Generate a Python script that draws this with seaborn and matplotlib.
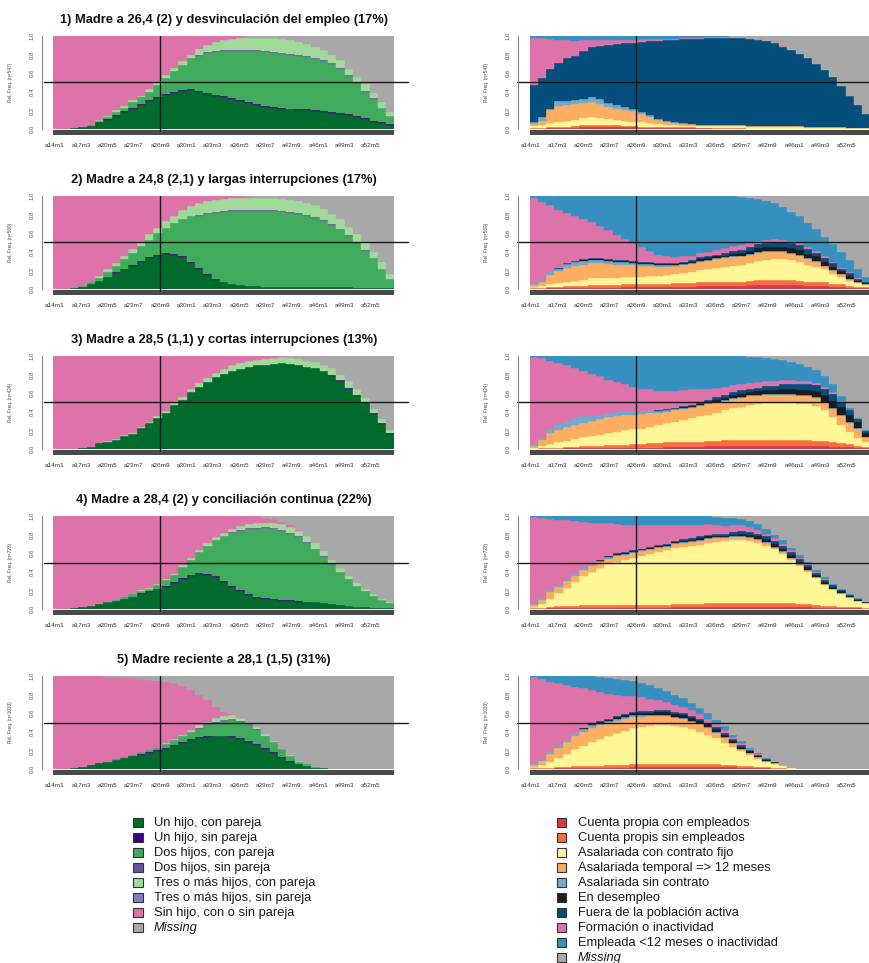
import numpy as np
import matplotlib
matplotlib.use("Agg")
import matplotlib.pyplot as plt
from matplotlib.patches import Rectangle
import seaborn as sns

# ---------------------------------------------------------------
# Time axis: 41 yearly steps (ages 14..54), 12 monthly columns each
# ---------------------------------------------------------------
tick_labels = ["a14m1", "a17m3", "a20m5", "a23m7", "a26m9", "a30m1", "a33m3",
               "a36m5", "a39m7", "a42m9", "a46m1", "a49m3", "a52m5"]
mother_mark = "a26m9"

titles = ["1) Madre a 26,4 (2) y desvinculación del empleo (17%)",
          "2) Madre a 24,8 (2,1) y largas interrupciones (17%)",
          "3) Madre a 28,5 (1,1) y cortas interrupciones (13%)",
          "4) Madre a 28,4 (2) y conciliación continua (22%)",
          "5) Madre reciente a 28,1 (1,5) (31%)"]
group_n = [547, 569, 424, 723, 1033]

fam_states = ["Un hijo, con pareja", "Un hijo, sin pareja", "Dos hijos, con pareja",
              "Dos hijos, sin pareja", "Tres o más hijos, con pareja",
              "Tres o más hijos, sin pareja", "Sin hijo, con o sin pareja", "Missing"]
lab_states = ["Cuenta propia con empleados", "Cuenta propis sin empleados",
              "Asalariada con contrato fijo", "Asalariada temporal => 12 meses",
              "Asalariada sin contrato", "En desempleo", "Fuera de la población activa",
              "Formación o inactividad", "Empleada <12 meses o inactividad", "Missing"]

# ---------------- family trajectories (percent per step) ----------------
fam1_un_con = [0,0,1,2,3,7,10,14,18,22, 26,30,33,37,39,41,42,40,38,36, 34,32,30,28,26,24,23,22,21,20, 20,19,18,17,16,15,13,11,8,6, 4]
fam1_un_sin = [0,0,0,0,0,0,1,1,1,1, 1,1,1,1,1,1,1,1,1,1, 1,1,1,1,1,1,1,1,1,1, 1,1,1,1,1,1,1,1,1,1, 1]
fam1_dos_con = [0,0,0,0,1,2,2,3,4,6, 7,9,13,17,22,27,33,38,43,46, 49,51,53,55,57,58,58,58,58,58, 56,55,54,52,48,41,35,28,23,16, 9]
fam1_dos_sin = [0,0,0,0,0,0,0,0,0,0, 0,0,0,0,0,0,0,1,1,1, 1,1,1,1,1,1,1,1,1,1, 1,1,1,1,1,1,1,1,1,0, 0]
fam1_tres_con = [0,0,0,0,0,1,1,2,2,2, 2,3,2,3,4,4,4,6,7,10, 11,12,13,13,13,14,15,15,15,14, 13,12,11,9,8,7,6,7,6,6, 4]
fam1_tres_sin = [0,0,0,0,0,0,0,0,0,0, 0,0,0,0,0,0,0,0,0,0, 0,0,0,0,0,0,0,0,0,0, 0,0,0,0,0,0,0,0,0,0, 0]
fam1_sin_hijo = [100,100,99,98,96,90,86,80,75,69, 64,57,51,42,34,27,20,14,10,6, 4,3,2,0,0,0,0,0,0,0, 0,0,0,0,0,0,0,0,0,0, 0]
fam1_missing = [0,0,0,0,0,0,0,0,0,0, 0,0,0,0,0,0,0,0,0,0, 0,0,0,2,2,2,2,3,4,6, 9,12,15,20,26,35,44,52,61,71, 82]

fam2_un_con = [0,0,1,2,5,9,13,17,21,25, 29,33,36,38,37,34,28,22,15,10, 7,5,4,3,3,2,2,2,2,2, 2,2,2,2,2,2,1,1,1,1, 1]
fam2_un_sin = [0,0,0,0,0,0,0,1,1,1, 1,1,1,1,1,1,1,1,1,1, 1,0,0,0,0,0,0,0,0,0, 0,0,0,0,0,0,0,0,0,0, 0]
fam2_dos_con = [0,0,0,1,2,3,5,7,10,13, 16,19,23,27,33,40,49,56,65,71, 75,79,80,81,81,82,82,81,80,79, 77,74,71,67,62,55,48,40,32,21, 10]
fam2_dos_sin = [0,0,0,0,0,0,0,0,0,0, 0,0,0,0,0,0,0,1,1,1, 1,1,1,1,1,1,1,1,1,1, 1,1,1,1,1,1,1,1,0,0, 0]
fam2_tres_con = [0,0,0,0,1,2,3,3,4,4, 5,6,6,7,8,10,11,12,13,13, 13,13,13,13,13,13,13,13,13,13, 13,13,12,11,10,9,9,8,7,7, 5]
fam2_tres_sin = [0,0,0,0,0,0,0,0,0,0, 0,0,0,0,0,0,0,0,0,0, 0,0,0,0,0,0,0,0,0,0, 0,0,0,0,0,0,0,0,0,0, 0]
fam2_sin_hijo = [100,100,99,97,92,86,79,72,64,57, 49,41,34,27,21,15,11,8,5,4, 3,2,2,1,0,0,0,0,0,0, 0,0,0,0,0,0,0,0,0,0, 0]
fam2_missing = [0,0,0,0,0,0,0,0,0,0, 0,0,0,0,0,0,0,0,0,0, 0,0,0,1,2,2,2,3,4,5, 7,10,14,19,25,33,41,50,60,71, 84]

fam3_un_con = [0,0,0,1,2,6,8,10,14,16, 23,28,33,39,47,53,61,67,72,77, 81,84,86,88,90,90,91,92,91,90, 88,87,84,79,73,65,57,50,38,27, 16]
fam3_un_sin = [0,0,0,0,0,0,0,0,0,0, 0,0,0,0,0,0,0,0,0,0, 0,0,0,0,0,0,0,0,0,0, 0,0,0,1,1,1,1,1,1,1, 1]
fam3_dos_con = [0,0,0,0,0,0,0,0,0,0, 0,0,0,0,0,0,0,0,0,0, 0,0,0,0,0,0,0,0,0,0, 0,0,0,0,0,0,0,0,0,0, 0]
fam3_dos_sin = [0,0,0,0,0,0,0,0,0,0, 0,0,0,0,0,0,0,0,0,0, 0,0,0,0,0,0,0,0,0,0, 0,0,0,0,0,0,0,0,0,0, 0]
fam3_tres_con = [0,0,0,0,0,0,1,1,1,1, 1,1,2,2,2,3,3,4,4,5, 5,6,7,7,6,7,7,7,7,7, 7,7,6,7,6,7,6,4,4,4, 3]
fam3_tres_sin = [0,0,0,0,0,0,0,0,0,0, 0,0,0,0,0,0,0,0,0,0, 0,0,0,0,0,0,0,0,0,0, 0,0,0,0,0,0,0,0,0,0, 0]
fam3_sin_hijo = [100,100,100,99,98,94,91,89,85,83, 76,71,65,59,51,44,36,29,24,18, 14,10,7,5,4,3,2,1,0,0, 0,0,0,0,0,0,0,0,0,0, 0]
fam3_missing = [0,0,0,0,0,0,0,0,0,0, 0,0,0,0,0,0,0,0,0,0, 0,0,0,0,0,0,0,0,2,3, 5,6,10,13,20,27,36,45,57,68, 80]

fam4_un_con = [0,0,1,2,3,5,7,9,11,13, 16,18,21,24,28,32,36,38,37,34, 29,24,19,15,12,11,10,9,9,8, 7,7,6,5,4,3,2,2,1,1, 1]
fam4_un_sin = [0,0,0,0,0,0,0,0,0,0, 1,1,1,1,1,1,1,1,1,1, 1,1,1,1,1,1,1,1,1,1, 1,0,0,0,0,0,0,0,0,0, 0]
fam4_dos_con = [0,0,0,0,0,0,1,1,2,3, 2,3,4,6,8,12,16,22,30,39, 48,57,64,70,73,75,75,74,71,68, 63,57,50,42,36,29,23,17,13,9, 5]
fam4_dos_sin = [0,0,0,0,0,0,0,0,0,0, 0,0,0,0,0,0,0,0,0,0, 1,1,1,1,1,1,1,1,1,1, 1,1,1,1,0,0,0,0,0,0, 0]
fam4_tres_con = [0,0,0,0,0,0,0,0,0,0, 1,1,1,1,1,2,2,2,3,3, 3,3,4,4,5,5,6,6,6,6, 6,6,5,5,4,3,3,2,2,1, 1]
fam4_tres_sin = [0,0,0,0,0,0,0,0,0,0, 0,0,0,0,0,0,0,0,0,0, 0,0,0,0,0,0,0,0,0,0, 0,0,0,0,0,0,0,0,0,0, 0]
fam4_sin_hijo = [100,100,99,98,97,95,92,90,87,84, 80,77,73,68,62,53,45,37,29,23, 18,14,11,9,8,5,4,3,2,1, 0,0,0,0,0,0,0,0,0,0, 0]
fam4_missing = [0,0,0,0,0,0,0,0,0,0, 0,0,0,0,0,0,0,0,0,0, 0,0,0,0,0,2,3,6,10,15, 22,29,38,47,56,65,72,79,84,89, 93]

fam5_un_con = [0,0,1,2,4,6,8,10,12,14, 15,17,19,22,25,28,31,33,34,35, 35,34,32,29,26,22,17,12,8,5, 3,1,1,0,0,0,0,0,0,0, 0]
fam5_un_sin = [0,0,0,0,0,0,0,0,0,0, 1,1,1,1,1,1,1,1,1,1, 1,1,1,1,1,1,1,1,1,0, 0,0,0,0,0,0,0,0,0,0, 0]
fam5_dos_con = [0,0,0,0,0,0,0,1,1,1, 2,2,3,4,5,6,8,9,12,14, 16,18,18,17,15,12,11,8,5,3, 2,1,0,0,0,0,0,0,0,0, 0]
fam5_dos_sin = [0,0,0,0,0,0,0,0,0,0, 0,0,0,0,0,0,0,1,1,1, 1,1,1,1,1,1,0,0,0,0, 0,0,0,0,0,0,0,0,0,0, 0]
fam5_tres_con = [0,0,0,0,0,0,0,0,0,0, 0,0,0,1,1,2,2,3,3,4, 4,4,3,2,2,2,1,1,1,1, 0,0,0,0,0,0,0,0,0,0, 0]
fam5_tres_sin = [0,0,0,0,0,0,0,0,0,0, 0,0,0,0,0,0,0,0,0,0, 0,0,0,0,0,0,0,0,0,0, 0,0,0,0,0,0,0,0,0,0, 0]
fam5_sin_hijo = [100,100,99,98,96,94,91,88,85,83, 79,76,72,66,60,52,43,33,23,12, 4,1,1,0,0,0,0,0,0,0, 0,0,0,0,0,0,0,0,0,0, 0]
fam5_missing = [0,0,0,0,0,0,1,1,2,2, 3,4,5,6,8,11,15,20,26,33, 39,41,44,50,55,62,70,78,85,91, 95,98,99,100,100,100,100,100,100,100, 100]

# ---------------- labour trajectories (percent per step) ----------------
lab1_cp_con = [0,0,1,1,1,1,2,2,2,2, 2,2,2,1,1,1,1,1,1,1, 1,1,0,0,0,0,0,0,0,0, 0,0,0,0,0,0,0,0,0,0, 0]
lab1_cp_sin = [1,1,1,1,1,2,2,2,2,2, 2,1,1,1,1,1,1,1,1,1, 0,0,1,1,1,1,0,0,0,0, 0,0,0,0,0,0,0,0,0,0, 0]
lab1_fijo = [2,3,4,6,7,7,8,9,8,7, 6,6,5,5,4,3,2,2,1,1, 2,2,2,2,2,2,2,2,2,2, 2,2,2,1,1,1,1,1,1,1, 1]
lab1_temporal = [2,5,14,17,17,17,16,16,15,13, 12,11,11,9,7,5,4,2,2,2, 1,1,1,1,1,1,1,1,1,1, 1,1,1,1,1,1,1,1,0,0, 0]
lab1_sin_contrato = [2,4,2,5,4,4,4,5,5,4, 4,4,2,2,2,1,1,1,1,0, 0,0,0,0,0,0,0,0,0,0, 0,0,0,0,0,0,0,0,0,0, 0]
lab1_desempleo = [0,0,0,0,0,0,0,0,0,0, 0,0,0,0,0,0,0,0,0,0, 0,0,0,0,0,0,0,0,0,0, 0,0,0,0,0,0,0,0,0,0, 0]
lab1_fuera = [40,42,42,41,46,48,52,54,57,62, 65,68,72,76,80,84,87,89,91,92, 93,94,94,94,94,94,94,93,92,89, 85,82,78,74,68,61,54,44,35,25, 15]
lab1_formacion = [51,43,33,25,20,16,12,8,7,6, 5,4,3,3,2,2,1,1,1,1, 1,1,1,1,1,0,0,1,0,0, 1,0,0,0,0,0,0,0,0,0, 0]
lab1_empleada12 = [2,2,3,4,4,5,4,4,4,4, 4,4,4,3,3,3,3,3,2,2, 2,1,1,1,0,0,0,0,0,0, 0,0,0,0,0,0,0,0,0,0, 0]
lab1_missing = [0,0,0,0,0,0,0,0,0,0, 0,0,0,0,0,0,0,0,0,0, 0,0,0,0,1,2,3,3,5,8, 11,15,19,24,30,37,44,54,64,74, 84]

lab2_cp_con = [0,0,1,1,1,1,1,1,1,1, 1,2,2,2,2,2,2,2,2,2, 3,3,3,3,3,3,4,4,4,4, 4,4,4,3,3,3,2,2,1,1, 1]
lab2_cp_sin = [1,1,1,1,2,2,2,3,3,3, 3,3,3,3,3,3,3,4,4,4, 4,4,5,5,5,5,5,6,6,6, 6,6,5,5,5,4,3,3,2,1, 1]
lab2_fijo = [1,2,3,4,5,6,7,8,8,8, 8,8,8,8,9,9,10,10,11,12, 13,14,15,16,17,18,19,20,21,22, 22,21,20,18,16,14,11,8,6,4, 2]
lab2_temporal = [2,5,10,13,15,16,16,16,16,15, 14,13,13,12,11,10,9,9,9,9, 9,9,9,9,9,9,9,9,9,8, 8,7,7,6,5,4,4,3,2,1, 1]
lab2_sin_contrato = [1,2,3,3,4,4,4,3,3,3, 3,3,2,2,2,2,2,1,1,1, 1,1,1,1,1,1,1,1,1,1, 1,1,1,1,1,0,0,0,0,0, 0]
lab2_desempleo = [0,0,0,0,0,0,1,1,1,1, 1,1,1,1,1,1,1,1,1,1, 2,2,2,2,3,3,3,4,4,4, 4,5,5,5,5,4,4,3,3,2, 1]
lab2_fuera = [0,0,0,1,1,1,1,1,1,1, 1,1,1,1,1,1,1,1,1,2, 2,2,2,3,3,3,4,4,4,5, 5,5,5,5,4,4,4,3,3,2, 1]
lab2_formacion = [93,84,72,62,54,48,43,39,35,31, 27,23,19,16,12,9,7,6,6,5, 5,5,5,5,5,5,4,4,4,4, 3,3,2,2,2,2,1,1,1,1, 0]
lab2_empleada12 = [2,6,10,15,18,22,25,28,32,37, 42,46,51,55,59,63,65,66,65,64, 61,60,58,56,54,52,49,45,42,38, 35,31,29,26,23,21,19,17,13,10, 6]
lab2_missing = [0,0,0,0,0,0,0,0,0,0, 0,0,0,0,0,0,0,0,0,0, 0,0,0,0,0,1,2,3,5,8, 12,17,22,29,36,44,52,60,69,78, 87]

lab3_cp_con = [0,0,0,0,1,1,1,1,1,1, 1,1,1,1,1,1,2,2,2,2, 2,3,3,3,3,3,3,3,3,3, 3,3,3,3,3,3,2,2,2,1, 1]
lab3_cp_sin = [0,1,1,1,1,1,2,2,2,3, 3,3,4,4,5,5,5,5,6,6, 6,6,6,7,7,7,7,7,7,7, 7,7,7,7,6,6,5,4,3,2, 1]
lab3_fijo = [1,2,4,6,7,9,10,11,12,13, 14,16,16,17,18,20,21,22,23,25, 27,28,30,32,34,35,37,38,39,39, 39,39,38,38,37,33,27,20,13,9, 5]
lab3_temporal = [2,7,12,13,15,15,15,16,17,17, 17,17,16,16,15,13,12,13,12,11, 11,11,11,10,10,10,10,9,9,9, 9,9,9,9,9,8,9,10,10,10, 6]
lab3_sin_contrato = [2,2,5,7,6,7,7,6,5,5, 5,4,4,3,2,2,2,1,1,1, 1,1,1,1,1,1,1,1,1,1, 1,1,1,1,1,1,1,1,1,1, 0]
lab3_desempleo = [0,0,0,0,0,0,0,0,0,0, 0,0,0,0,0,0,0,0,1,1, 1,2,2,2,3,3,3,4,4,4, 5,5,5,5,6,7,8,8,8,6, 4]
lab3_fuera = [0,0,0,0,0,0,0,0,0,0, 0,0,0,0,0,1,1,1,1,1, 2,2,3,3,3,4,4,4,5,5, 6,6,7,7,7,7,7,6,5,3, 2]
lab3_formacion = [94,86,73,66,60,54,49,45,41,35, 32,29,26,24,23,20,19,18,17,17, 14,12,10,9,8,7,6,6,5,5, 4,4,3,3,2,2,2,1,0,0, 0]
lab3_empleada12 = [1,2,5,7,10,13,16,19,22,26, 28,30,33,35,36,38,38,38,37,36, 36,35,34,33,31,30,28,27,25,24, 22,20,18,15,14,12,9,5,2,1, 1]
lab3_missing = [0,0,0,0,0,0,0,0,0,0, 0,0,0,0,0,0,0,0,0,0, 0,0,0,0,0,0,1,1,2,3, 4,6,9,12,15,21,30,43,56,67, 80]

lab4_cp_con = [0,0,1,1,1,1,1,1,1,1, 1,1,1,1,1,1,1,2,2,2, 2,2,2,2,2,2,2,2,2,2, 2,2,2,2,1,1,1,1,1,1, 0]
lab4_cp_sin = [1,1,1,2,2,2,3,3,3,3, 3,3,3,3,3,3,3,3,3,3, 3,4,4,4,4,4,4,4,4,4, 4,4,3,3,3,2,2,1,1,1, 1]
lab4_fijo = [1,4,9,14,20,26,31,36,40,44, 47,49,51,53,55,57,59,61,62,63, 64,65,66,67,68,68,67,65,62,58, 53,47,41,35,29,23,18,14,10,7, 5]
lab4_temporal = [2,5,7,7,7,7,7,6,6,6, 6,5,5,5,5,5,4,4,4,4, 4,4,4,3,3,3,3,3,3,2, 2,2,2,2,1,1,1,1,1,0, 0]
lab4_sin_contrato = [1,2,2,2,2,2,2,2,2,2, 1,1,1,1,1,1,1,1,1,1, 1,1,1,1,1,1,1,1,1,1, 1,0,0,0,0,0,0,0,0,0, 0]
lab4_desempleo = [0,0,0,0,0,0,0,0,1,1, 1,1,1,1,1,1,1,1,1,1, 2,2,2,2,2,3,3,3,3,3, 3,3,3,3,3,2,2,2,1,1, 1]
lab4_fuera = [0,0,0,0,0,0,0,0,0,0, 1,1,1,1,1,1,1,1,2,2, 2,2,2,2,3,3,3,3,3,3, 3,3,3,2,2,2,2,1,1,1, 1]
lab4_formacion = [94,86,77,70,64,57,50,45,40,35, 31,29,27,25,23,21,20,17,15,14, 12,11,9,8,7,6,5,4,3,3, 2,2,1,1,1,1,0,0,0,0, 0]
lab4_empleada12 = [1,2,3,4,4,5,6,7,7,8, 9,10,10,10,10,10,10,10,10,10, 10,9,9,9,8,7,7,6,5,4, 4,3,3,2,2,2,1,1,1,1, 0]
lab4_missing = [0,0,0,0,0,0,0,0,0,0, 0,0,0,0,0,0,0,0,0,0, 0,0,1,2,2,3,5,9,14,20, 26,34,42,50,58,66,73,79,84,88, 92]

lab5_cp_con = [0,0,0,1,1,1,1,1,1,1, 1,1,2,2,2,2,2,2,2,2, 2,2,2,2,2,1,1,1,1,0, 0,0,0,0,0,0,0,0,0,0, 0]
lab5_cp_sin = [1,1,1,1,1,2,2,2,2,3, 3,3,3,3,3,3,3,3,3,3, 3,3,3,2,2,2,2,1,1,1, 1,0,0,0,0,0,0,0,0,0, 0]
lab5_fijo = [1,3,6,10,14,18,22,26,29,32, 35,37,39,40,41,42,42,41,40,38, 35,32,28,24,20,16,12,9,6,4, 2,1,0,0,0,0,0,0,0,0, 0]
lab5_temporal = [2,5,9,11,13,14,15,15,15,14, 13,13,12,11,11,10,10,9,9,8, 8,7,6,5,4,3,2,2,1,1, 1,0,0,0,0,0,0,0,0,0, 0]
lab5_sin_contrato = [1,2,3,3,3,3,3,3,3,2, 2,2,2,2,1,1,1,1,1,1, 1,1,1,1,0,0,0,0,0,0, 0,0,0,0,0,0,0,0,0,0, 0]
lab5_desempleo = [0,0,0,0,0,0,1,1,1,1, 2,2,2,2,2,3,3,3,3,3, 3,3,3,3,2,2,2,1,1,1, 0,0,0,0,0,0,0,0,0,0, 0]
lab5_fuera = [0,0,0,0,0,0,0,0,1,1, 1,1,1,2,2,2,2,2,2,2, 2,2,2,2,2,2,1,1,1,1, 0,0,0,0,0,0,0,0,0,0, 0]
lab5_formacion = [94,86,75,66,58,50,43,37,31,27, 23,20,17,15,13,11,9,8,7,6, 5,4,3,3,2,2,1,1,0,0, 0,0,0,0,0,0,0,0,0,0, 0]
lab5_empleada12 = [1,3,6,8,10,12,13,15,16,17, 17,17,17,16,15,13,12,11,9,8, 7,6,5,4,3,2,2,1,1,0, 0,0,0,0,0,0,0,0,0,0, 0]
lab5_missing = [0,0,0,0,0,0,0,0,1,2, 3,4,5,7,10,13,16,20,24,29, 34,40,47,54,63,70,77,83,88,92, 96,99,100,100,100,100,100,100,100,100, 100]

fam_panels = [
    [fam1_un_con, fam1_un_sin, fam1_dos_con, fam1_dos_sin, fam1_tres_con, fam1_tres_sin, fam1_sin_hijo, fam1_missing],
    [fam2_un_con, fam2_un_sin, fam2_dos_con, fam2_dos_sin, fam2_tres_con, fam2_tres_sin, fam2_sin_hijo, fam2_missing],
    [fam3_un_con, fam3_un_sin, fam3_dos_con, fam3_dos_sin, fam3_tres_con, fam3_tres_sin, fam3_sin_hijo, fam3_missing],
    [fam4_un_con, fam4_un_sin, fam4_dos_con, fam4_dos_sin, fam4_tres_con, fam4_tres_sin, fam4_sin_hijo, fam4_missing],
    [fam5_un_con, fam5_un_sin, fam5_dos_con, fam5_dos_sin, fam5_tres_con, fam5_tres_sin, fam5_sin_hijo, fam5_missing],
]
lab_panels = [
    [lab1_cp_con, lab1_cp_sin, lab1_fijo, lab1_temporal, lab1_sin_contrato, lab1_desempleo, lab1_fuera, lab1_formacion, lab1_empleada12, lab1_missing],
    [lab2_cp_con, lab2_cp_sin, lab2_fijo, lab2_temporal, lab2_sin_contrato, lab2_desempleo, lab2_fuera, lab2_formacion, lab2_empleada12, lab2_missing],
    [lab3_cp_con, lab3_cp_sin, lab3_fijo, lab3_temporal, lab3_sin_contrato, lab3_desempleo, lab3_fuera, lab3_formacion, lab3_empleada12, lab3_missing],
    [lab4_cp_con, lab4_cp_sin, lab4_fijo, lab4_temporal, lab4_sin_contrato, lab4_desempleo, lab4_fuera, lab4_formacion, lab4_empleada12, lab4_missing],
    [lab5_cp_con, lab5_cp_sin, lab5_fijo, lab5_temporal, lab5_sin_contrato, lab5_desempleo, lab5_fuera, lab5_formacion, lab5_empleada12, lab5_missing],
]

fam_colors = sns.color_palette(["#006B2C", "#3F007D", "#41AB5D", "#6A51A3",
                                "#A1D99B", "#807DBA", "#DD73A9", "#A8A8A8"])
lab_colors = sns.color_palette(["#D63A48", "#F46D43", "#FFF795", "#FDAE61", "#74A9CF",
                                "#1C1C1C", "#034E7B", "#DD73A9", "#3690C0", "#A8A8A8"])

# ---------------------------------------------------------------
sns.set_style("white")
plt.rcParams["font.family"] = ["Liberation Sans", "DejaVu Sans"]

W, H = 870, 963
fig = plt.figure(figsize=(W / 100, H / 100), dpi=100)

n_steps = 41
step_width = 12
step_left = np.arange(n_steps) * step_width
tick_pos = [38 * j + 2 for j in range(len(tick_labels))]
mark_pos = tick_pos[tick_labels.index(mother_mark)]

AX_W, AX_H = 341, 93
LEFT_X, RIGHT_X = 53.5, 529.5
ROW_TOP0, ROW_STEP = 36, 160


def draw_panel(left_px, top_px, layers, colors, n, hline_from):
    ax = fig.add_axes([left_px / W, 1 - (top_px + AX_H) / H, AX_W / W, AX_H / H])
    base = np.zeros(n_steps)
    for vals, col in zip(layers, colors):
        h = np.asarray(vals, float) / 100.0
        keep = h > 0
        if keep.any():
            ax.bar(step_left[keep], h[keep], width=step_width, bottom=base[keep],
                   align="edge", color=col, edgecolor=col, linewidth=0.3)
        base += h
    ax.set_xlim(0, n_steps * step_width)
    ax.set_ylim(0, 1)

    for s in ["top", "right", "bottom"]:
        ax.spines[s].set_visible(False)
    ax.spines["left"].set_position(("outward", 8.5))
    ax.spines["left"].set_bounds(0, 1)
    ax.spines["left"].set_color("#666666")
    ax.spines["left"].set_linewidth(0.6)

    yt = [0, 0.2, 0.4, 0.6, 0.8, 1.0]
    ax.set_yticks(yt)
    ax.set_yticklabels([f"{v:.1f}" for v in yt], rotation=90, va="center")
    ax.tick_params(axis="y", length=2.5, width=0.6, colors="#555555",
                   labelsize=4.3, pad=2.5)
    ax.set_xticks(tick_pos)
    ax.set_xticklabels(tick_labels)
    ax.tick_params(axis="x", length=0, pad=10, labelsize=4.6, colors="#333333")
    ax.set_ylabel(f"Rel. Freq. (n={n})", fontsize=3.4, color="#444444")
    ax.yaxis.set_label_coords(-0.12, 0.5)
    ax.grid(False)

    # dense time-axis strip under the bars
    ax.add_patch(Rectangle((0, -0.068), 1, 0.056, transform=ax.transAxes,
                           clip_on=False, facecolor="#4a4a4a", edgecolor="none"))
    ax.axhline(0.5, xmin=hline_from, xmax=1.04, color="#1a1a1a", lw=1.0, clip_on=False)
    ax.axvline(mark_pos, ymin=-0.02, ymax=1.0, color="#1a1a1a", lw=1.0, clip_on=False)
    return ax


for r in range(5):
    top = ROW_TOP0 + ROW_STEP * r
    draw_panel(LEFT_X, top, fam_panels[r], fam_colors, group_n[r], -0.027)
    draw_panel(RIGHT_X, top, lab_panels[r], lab_colors, group_n[r], -0.037)
    fig.text((LEFT_X + AX_W / 2) / W, 1 - (top - 16) / H, titles[r],
             ha="center", va="center", fontsize=9.3, fontweight="bold", color="#111111")


def draw_key(box_x, text_x, labels, colors, y0=822.7, dy=15.0):
    for i, (lab, col) in enumerate(zip(labels, colors)):
        yc = y0 + dy * i
        fig.add_artist(Rectangle((box_x / W, 1 - (yc + 4.5) / H), 9.5 / W, 9 / H,
                                 transform=fig.transFigure, facecolor=col,
                                 edgecolor="#333333", linewidth=0.8))
        fig.text(text_x / W, 1 - yc / H, lab, ha="left", va="center",
                 fontsize=9.3, color="#1a1a1a",
                 style="italic" if lab == "Missing" else "normal")


draw_key(133.5, 154, fam_states, fam_colors)
draw_key(557, 577.5, lab_states, lab_colors)

fig.savefig("out.png", dpi=100)
